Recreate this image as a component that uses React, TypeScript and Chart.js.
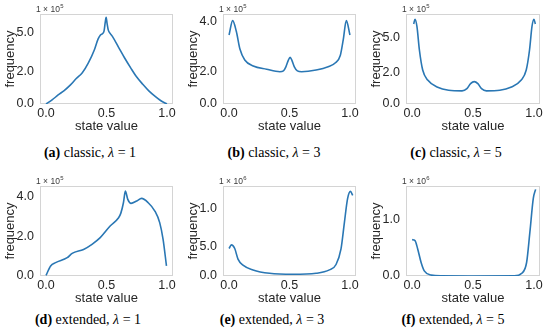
import React, { useEffect, useRef } from "react";
import { Chart, registerables } from "chart.js";
Chart.register(...registerables);

// ---------- data (x = state value, y = frequency in units of the axis multiplier) ----------
const xA = [0, 0.05, 0.1, 0.15, 0.2, 0.25, 0.3, 0.35, 0.4, 0.43, 0.45, 0.47, 0.48, 0.49, 0.497, 0.505, 0.515, 0.53, 0.55, 0.6, 0.65, 0.7, 0.75, 0.8, 0.85, 0.9, 0.95, 1.0];
const yA = [0, 0.25, 0.55, 0.82, 1.15, 1.55, 1.9, 2.5, 3.3, 3.95, 4.2, 4.3, 4.45, 5.0, 5.28, 4.9, 4.5, 4.3, 4.1, 3.45, 2.8, 2.2, 1.64, 1.2, 0.8, 0.48, 0.2, 0];

const xB = [0, 0.03, 0.06, 0.09, 0.13, 0.2, 0.31, 0.42, 0.45, 0.47, 0.49, 0.505, 0.52, 0.54, 0.565, 0.6, 0.72, 0.82, 0.88, 0.92, 0.945, 0.97, 1.0];
const yB = [4.27, 5.16, 4.5, 3.4, 2.72, 2.35, 2.15, 2.0, 2.05, 2.3, 2.7, 2.89, 2.7, 2.3, 2.05, 2.0, 2.1, 2.3, 2.55, 3.0, 4.0, 5.16, 4.27];

const xC = [0.013, 0.024, 0.04, 0.06, 0.087, 0.128, 0.21, 0.3, 0.41, 0.45, 0.48, 0.51, 0.54, 0.57, 0.61, 0.72, 0.81, 0.896, 0.937, 0.964, 0.984, 1.0, 1.012];
const yC = [5.11, 5.41, 4.94, 3.45, 2.17, 1.53, 1.07, 0.88, 0.84, 0.98, 1.3, 1.43, 1.3, 0.98, 0.84, 0.88, 1.07, 1.53, 2.17, 3.45, 4.94, 5.41, 5.11];

const xD = [0, 0.038, 0.079, 0.175, 0.216, 0.31, 0.38, 0.448, 0.53, 0.6, 0.618, 0.64, 0.656, 0.676, 0.703, 0.75, 0.79, 0.845, 0.9, 0.94, 0.968, 0.996];
const yD = [0.03, 0.51, 0.68, 0.93, 1.15, 1.35, 1.61, 1.95, 2.54, 2.96, 3.18, 3.72, 4.31, 3.89, 3.69, 3.81, 3.94, 3.72, 3.3, 2.71, 1.86, 0.51];

const xE = [0, 0.019, 0.047, 0.074, 0.115, 0.198, 0.335, 0.528, 0.72, 0.83, 0.885, 0.926, 0.954, 0.98, 1.004, 1.023];
const yE = [0.406, 0.46, 0.406, 0.25, 0.16, 0.09, 0.04, 0.025, 0.04, 0.09, 0.17, 0.4, 0.79, 1.14, 1.25, 1.19];

const xF = [0, 0.024, 0.046, 0.074, 0.1, 0.156, 0.24, 0.5, 0.84, 0.9, 0.94, 0.967, 0.995, 1.014];
const yF = [0.646, 0.63, 0.48, 0.24, 0.09, 0.018, 0.002, 0, 0.002, 0.048, 0.24, 0.78, 1.38, 1.54];

// ---------- tick values & labels ----------
const xTickVals = [0, 0.5, 1];
const xTickLabels = ["0.0", "0.5", "1.0"];

const yTicksA = [0, 2, 4.36];
const yLabelsA = ["0.0", "2.0", "5.0"];
const yTicksB = [0, 2, 5.1];
const yLabelsB = ["0.0", "2.0", "4.0"];
const yTicksC = [0, 2, 4.26];
const yLabelsC = ["0.0", "2.0", "5.0"];
const yTicksD = [0, 2, 4.03];
const yLabelsD = ["0.0", "2.0", "4.0"];
const yTicksE = [0, 0.435, 1.0];
const yLabelsE = ["0.0", "5.0", "1.0"];
const yTicksF = [0, 1.0];
const yLabelsF = ["0.0", "1.0"];

const yMaxA = 5.48;
const yMaxB = 5.57;
const yMaxC = 5.75;
const yMaxD = 4.57;
const yMaxE = 1.33;
const yMaxF = 1.6;

const LINE = "#2a77b4";
const TXT = "#262626";
const FONT = "'Liberation Sans', Arial, sans-serif";

type PanelProps = {
  left: number;
  top: number;
  width: number;
  xs: number[];
  ys: number[];
  yMax: number;
  yTicks: number[];
  yLabels: string[];
  exp: string;
};

const PLOT_LEFT = 40;
const PLOT_TOP = 14;
const PLOT_H = 90;
const XAXIS_H = 30;
const CANVAS_H = PLOT_TOP + PLOT_H + XAXIS_H;

function Panel(p: PanelProps) {
  const ref = useRef<HTMLCanvasElement>(null);
  useEffect(() => {
    const plotW = p.width - PLOT_LEFT - 10;
    const deco = {
      id: "deco",
      beforeDatasetsDraw(chart: any) {
        const { ctx, chartArea } = chart;
        ctx.save();
        ctx.strokeStyle = "#d4d4d4";
        ctx.lineWidth = 1;
        ctx.strokeRect(
          Math.round(chartArea.left) + 0.5,
          Math.round(chartArea.top) + 0.5,
          Math.round(chartArea.right - chartArea.left) - 1,
          Math.round(chartArea.bottom - chartArea.top) - 1
        );
        ctx.restore();
      },
      afterDraw(chart: any) {
        const { ctx, chartArea } = chart;
        ctx.save();
        ctx.fillStyle = "#3a3a3a";
        ctx.textBaseline = "alphabetic";
        ctx.textAlign = "left";
        ctx.font = `8.5px ${FONT}`;
        const base = "1 \u00d7 10";
        const x0 = chartArea.left - 4;
        const y0 = chartArea.top - 2.5;
        ctx.fillText(base, x0, y0);
        const w = ctx.measureText(base).width;
        ctx.font = `6px ${FONT}`;
        ctx.fillText(p.exp, x0 + w + 0.5, y0 - 3.5);
        ctx.restore();
      },
    };
    const chart = new Chart(ref.current as HTMLCanvasElement, {
      type: "line",
      data: {
        datasets: [
          {
            data: p.xs.map((x, i) => ({ x, y: p.ys[i] })),
            borderColor: LINE,
            borderWidth: 1.6,
            pointRadius: 0,
            fill: false,
            cubicInterpolationMode: "monotone",
          },
        ],
      },
      options: {
        animation: false,
        responsive: false,
        events: [],
        layout: { padding: { top: PLOT_TOP, right: p.width - PLOT_LEFT - plotW, left: 0, bottom: 0 } },
        plugins: { legend: { display: false }, tooltip: { enabled: false } },
        scales: {
          x: {
            type: "linear",
            min: -0.05,
            max: 1.05,
            afterBuildTicks: (s: any) => {
              s.ticks = xTickVals.map((v) => ({ value: v }));
            },
            afterFit: (s: any) => {
              s.height = XAXIS_H;
            },
            ticks: {
              callback: (_v: any, i: number) => xTickLabels[i],
              font: { family: FONT, size: 12.5 },
              color: TXT,
              padding: 2,
              maxRotation: 0,
              autoSkip: false,
            },
            grid: { display: false, drawTicks: false },
            border: { display: false },
            title: { display: true, text: "state value", font: { family: FONT, size: 13 }, color: TXT, padding: 0 },
          },
          y: {
            type: "linear",
            min: 0,
            max: p.yMax,
            afterBuildTicks: (s: any) => {
              s.ticks = p.yTicks.map((v) => ({ value: v }));
            },
            afterFit: (s: any) => {
              s.width = PLOT_LEFT;
            },
            ticks: {
              callback: (_v: any, i: number) => p.yLabels[i],
              font: { family: FONT, size: 12.5 },
              color: TXT,
              padding: 6,
              autoSkip: false,
            },
            grid: { display: false, drawTicks: false },
            border: { display: false },
            title: { display: true, text: "frequency", font: { family: FONT, size: 13 }, color: TXT, padding: { top: 3, bottom: 0 } },
          },
        },
      },
      plugins: [deco],
    } as any);
    return () => chart.destroy();
  }, []);
  return (
    <canvas
      ref={ref}
      width={p.width}
      height={CANVAS_H}
      style={{ position: "absolute", left: p.left, top: p.top, width: p.width, height: CANVAS_H }}
    />
  );
}

function Caption({ cx, cy, letter, kind, lam }: { cx: number; cy: number; letter: string; kind: string; lam: string }) {
  return (
    <div
      style={{
        position: "absolute",
        left: cx - 90,
        top: cy - 9,
        width: 180,
        height: 18,
        lineHeight: "18px",
        textAlign: "center",
        fontFamily: "'Liberation Serif', 'Times New Roman', serif",
        fontSize: 14,
        color: "#000",
        whiteSpace: "nowrap",
      }}
    >
      <b>({letter})</b> {kind}, <i>λ</i> = {lam}
    </div>
  );
}

export default function App() {
  return (
    <div style={{ position: "absolute", left: 0, top: 0, width: 550, height: 332, background: "#fff", overflow: "hidden" }}>
      <Panel left={0} top={0} width={183} xs={xA} ys={yA} yMax={yMaxA} yTicks={yTicksA} yLabels={yLabelsA} exp="5" />
      <Panel left={183} top={0} width={183} xs={xB} ys={yB} yMax={yMaxB} yTicks={yTicksB} yLabels={yLabelsB} exp="5" />
      <Panel left={366} top={0} width={184} xs={xC} ys={yC} yMax={yMaxC} yTicks={yTicksC} yLabels={yLabelsC} exp="5" />
      <Panel left={0} top={172} width={183} xs={xD} ys={yD} yMax={yMaxD} yTicks={yTicksD} yLabels={yLabelsD} exp="5" />
      <Panel left={183} top={172} width={183} xs={xE} ys={yE} yMax={yMaxE} yTicks={yTicksE} yLabels={yLabelsE} exp="6" />
      <Panel left={366} top={172} width={184} xs={xF} ys={yF} yMax={yMaxF} yTicks={yTicksF} yLabels={yLabelsF} exp="6" />
      <Caption cx={90} cy={153} letter="a" kind="classic" lam="1" />
      <Caption cx={274} cy={153} letter="b" kind="classic" lam="3" />
      <Caption cx={456} cy={153} letter="c" kind="classic" lam="5" />
      <Caption cx={88} cy={320} letter="d" kind="extended" lam="1" />
      <Caption cx={272} cy={320} letter="e" kind="extended" lam="3" />
      <Caption cx={453} cy={320} letter="f" kind="extended" lam="5" />
    </div>
  );
}
